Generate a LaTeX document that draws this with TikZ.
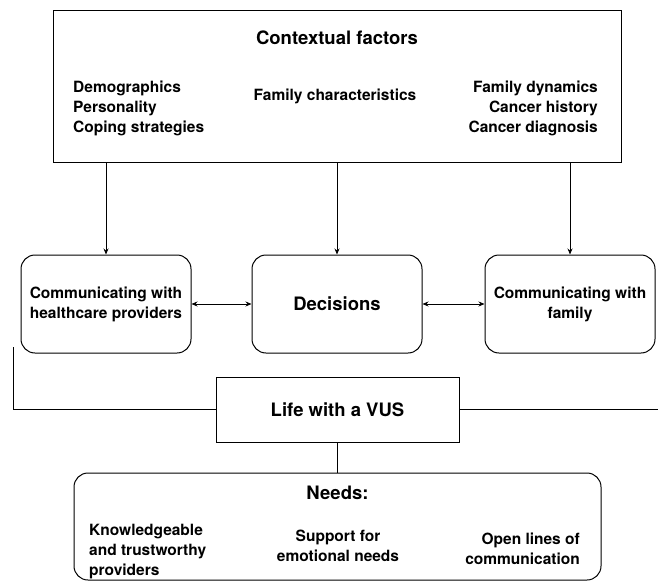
\documentclass[tikz,border=0pt]{standalone}
\usepackage{fontspec}
\setmainfont{TeX Gyre Heros}
\usetikzlibrary{arrows.meta,positioning}

\newcommand{\bodyf}{\fontsize{15.5}{20}\selectfont\bfseries}
\newcommand{\titlef}{\fontsize{18.5}{22}\selectfont\bfseries}

\begin{document}
\begin{tikzpicture}[x=1pt, y=-1pt,
    frame/.style={draw, line width=1pt, inner sep=0pt},
    rbox/.style={draw, line width=1pt, rounded corners=14pt, minimum width=170pt, minimum height=98pt, align=center, font=\bodyf},
    txt/.style={inner sep=0pt, font=\bodyf},
    arr/.style={-{Stealth[length=6pt, width=5pt]}, line width=0.8pt},
    dbl/.style={{Stealth[length=6pt, width=5pt]}-{Stealth[length=6pt, width=5pt]}, line width=0.8pt},
    link/.style={line width=1pt}
]
\useasboundingbox (0,0) rectangle (658,583);

% contextual factors
\node[frame, minimum width=568pt, minimum height=151pt] (ctx) at (337,86.5) {};
\node[txt, font=\titlef] (ctxtitle) at (337,38) {Contextual factors};
\node[txt, align=left, anchor=west] (personal) at (73,108) {Demographics\\Personality\\Coping strategies};
\node[txt] (famchar) at (335,96) {Family characteristics};
\node[txt, align=right, anchor=east] (history) at (598,108) {Family dynamics\\Cancer history\\Cancer diagnosis};

% communication and decisions
\node[rbox] (hcp) at (106,304) {Communicating with\\healthcare providers};
\node[rbox, font=\titlef] (dec) at (337,304) {Decisions};
\node[rbox] (fam) at (570,304) {Communicating with\\family};

\draw[arr] (ctx.south -| hcp.north) -- (hcp.north);
\draw[arr] (ctx.south -| dec.north) -- (dec.north);
\draw[arr] (ctx.south -| fam.north) -- (fam.north);
\draw[dbl] (hcp) -- (dec);
\draw[dbl] (dec) -- (fam);

% life with a VUS
\node[frame, minimum width=243pt, minimum height=65pt, font=\titlef] (life) at (337.5,409.5) {Life with a VUS};
\coordinate (leftend) at (13,347);
\coordinate (rightend) at (658,409.5);
\draw[link] (leftend) |- (life.west);
\draw[link] (life.east) -- (rightend);

% needs
\node[frame, rounded corners=14pt, minimum width=527pt, minimum height=107pt] (needs) at (337.5,526.5) {};
\draw[link] (life) -- (needs);
\node[txt, font=\titlef] (needstitle) at (337.5,493) {Needs:};
\node[txt, align=left, anchor=west] (providers) at (89,552) {Knowledgeable\\and trustworthy\\providers};
\node[txt, align=center] (support) at (338,546) {Support for\\emotional needs};
\node[txt, align=right, anchor=east] (openlines) at (580,549) {Open lines of\\communication};
\end{tikzpicture}
\end{document}
